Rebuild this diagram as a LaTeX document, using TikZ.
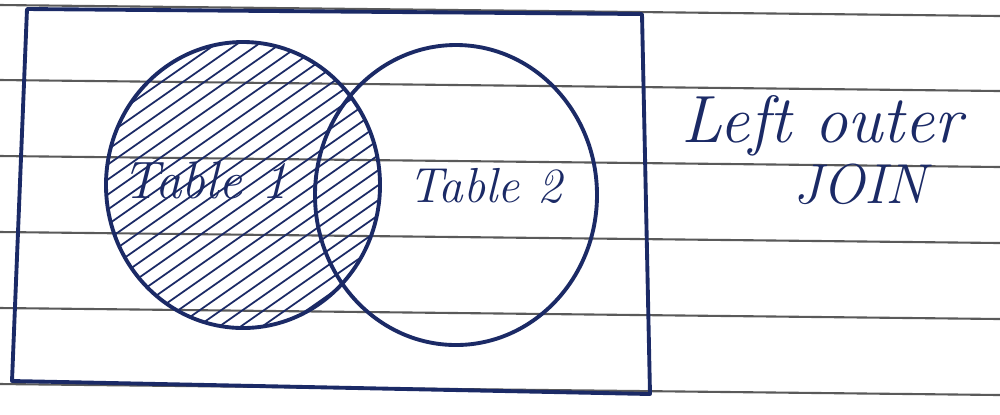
\documentclass[tikz,border=0pt]{standalone}
\begin{document}
\begin{tikzpicture}[x=0.01cm,y=-0.01cm]
\definecolor{ink}{HTML}{1B2A66}
\definecolor{rulecol}{HTML}{5A5A5A}
\tikzset{
  ruled/.style={rulecol, line width=0.6pt},
  pen/.style={ink, line width=1.1pt, line join=round, line cap=round},
  hatch/.style={ink, line width=0.5pt},
  label/.style={ink, font=\itshape}
}
\useasboundingbox (0,0) rectangle (1000,414);
\fill[white] (0,0) rectangle (1000,414);
% ruled paper lines
\foreach \y in {5,80,156,232,308,384}
  \draw[ruled] (0,\y) -- (1000,\y+11);
% hatching of the left circle
\begin{scope}
  \clip (243,185) ellipse (137 and 143);
  \foreach \c in {90,105,...,760}
    \draw[hatch] (90,\c-63) -- (620,\c-434);
\end{scope}
% frame
\draw[pen] (27,9) -- (642,14) -- (650,394) -- (12,381) -- cycle;
% circles
\draw[pen] (243,185) ellipse (137 and 143);
\draw[pen] (456,195) ellipse (141 and 150);
% labels
\node[label] (t1) at (205,180) {\fontsize{15}{17}\selectfont Table 1};
\node[label] (t2) at (485,186) {\fontsize{14}{16}\selectfont Table 2};
\node[label] (lo) at (822,126) {\fontsize{19}{22}\selectfont Left outer};
\node[label] (jn) at (860,184) {\fontsize{16}{19}\selectfont JOIN};
\end{tikzpicture}
\end{document}
